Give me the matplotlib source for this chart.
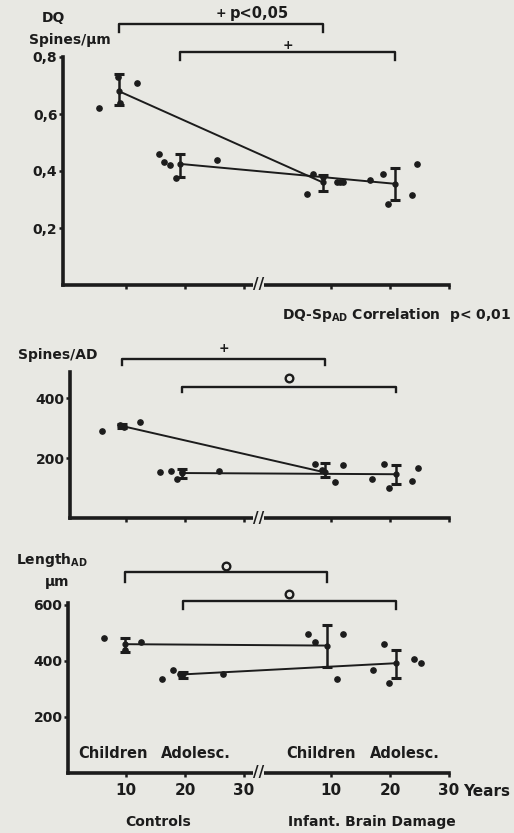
import matplotlib.pyplot as plt
import matplotlib.transforms as mtransforms

W, H = 514, 833
BG = '#e8e8e3'
INK = '#1c1c1c'

# x mapping: controls age is used as is, infant brain damage age is shifted past the break
IBD_OFFSET = 34.75
BREAK_X = 32.4

x_ticks = [10, 20, 30, 10 + IBD_OFFSET, 20 + IBD_OFFSET, 30 + IBD_OFFSET]
x_ticklabels = ['10', '20', '30', '10', '20', '30']

# ---- panel 1: DQ spines/um ----
dq_ctrl_age = [5.4, 8.6, 9.0, 11.9, 15.6, 16.4, 17.5, 18.4, 25.5]
dq_ctrl_val = [0.62, 0.73, 0.64, 0.71, 0.46, 0.43, 0.42, 0.375, 0.44]
dq_ibd_age = [5.9, 6.9, 8.6, 11.0, 11.6, 12.1, 16.6, 18.8, 19.7, 23.7, 24.6]
dq_ibd_val = [0.32, 0.39, 0.38, 0.36, 0.36, 0.36, 0.37, 0.39, 0.285, 0.315, 0.425]
# group means: ctrl children, ctrl adolescents, ibd children, ibd adolescents
dq_mean_age = [8.8, 19.1, 8.6, 20.9]
dq_mean = [0.68, 0.425, 0.36, 0.355]
dq_lo = [0.63, 0.38, 0.33, 0.30]
dq_hi = [0.74, 0.46, 0.385, 0.41]
dq_yticks = [0.2, 0.4, 0.6, 0.8]
dq_yticklabels = ['0,2', '0,4', '0,6', '0,8']

# ---- panel 2: spines per apical dendrite ----
sp_ctrl_age = [5.9, 9.0, 9.6, 12.4, 15.8, 17.6, 18.6, 19.5, 25.8]
sp_ctrl_val = [291, 310, 305, 319, 154, 158, 130, 154, 157]
sp_ibd_age = [7.3, 8.5, 10.7, 12.0, 16.9, 19.0, 19.8, 23.7, 24.7]
sp_ibd_val = [180, 160, 121, 177, 130, 180, 100, 123, 167]
sp_mean_age = [9.3, 19.5, 9.0, 21.0]
sp_mean = [307, 150, 152, 146]
sp_lo = [299, 135, 138, 115]
sp_hi = [315, 165, 183, 178]
sp_yticks = [200, 400]

# ---- panel 3: length of apical dendrite ----
ln_ctrl_age = [6.3, 9.8, 12.5, 16.1, 18.0, 19.2, 26.4]
ln_ctrl_val = [483, 439, 467, 334, 368, 352, 352]
ln_ibd_age = [6.1, 7.3, 11.0, 12.0, 17.1, 19.0, 19.8, 24.1, 25.2]
ln_ibd_val = [496, 467, 336, 495, 368, 460, 322, 406, 394]
ln_mean_age = [9.8, 19.6, 9.3, 21.0]
ln_mean = [460, 352, 455, 392]
ln_lo = [433, 340, 379, 338]
ln_hi = [483, 362, 529, 439]
ln_yticks = [200, 400, 600]

FONT = dict(family='DejaVu Sans', weight='bold', color=INK)
plt.rcParams['mathtext.default'] = 'bf'

fig = plt.figure(figsize=(W / 100, H / 100), dpi=100, facecolor=BG)


def add_panel(left, top, right, bottom, ymax):
    ax = fig.add_axes([left / W, 1 - bottom / H, (right - left) / W, (bottom - top) / H])
    ax.set_facecolor('none')
    ax.set_xlim((left - 67) / 5.9, (right - 67) / 5.9)
    ax.set_ylim(0, ymax)
    for s in ['top', 'right']:
        ax.spines[s].set_visible(False)
    for s in ['left', 'bottom']:
        ax.spines[s].set_linewidth(2.6)
        ax.spines[s].set_color(INK)
    ax.tick_params(colors=INK, width=1.8, length=3, pad=1, labelsize=10)
    ax.set_xticks(x_ticks)
    ax.set_xticklabels([])
    # axis break
    ax.text(BREAK_X, 0, '//', ha='center', va='center', fontsize=11, clip_on=False,
            bbox=dict(boxstyle='square,pad=0', fc=BG, ec='none'), **FONT)
    return ax


def draw_data(ax, ca, cv, ia, iv, mage, mean, lo, hi):
    xs_i = [a + IBD_OFFSET for a in ia]
    ax.plot(ca, cv, 'o', ms=3.8, color=INK, clip_on=False)
    ax.plot(xs_i, iv, 'o', ms=3.8, color=INK, clip_on=False)
    mx = [mage[0], mage[1], mage[2] + IBD_OFFSET, mage[3] + IBD_OFFSET]
    # children to children, adolescents to adolescents
    ax.plot([mx[0], mx[2]], [mean[0], mean[2]], color=INK, lw=1.4)
    ax.plot([mx[1], mx[3]], [mean[1], mean[3]], color=INK, lw=1.4)
    yerr = [[m - l for m, l in zip(mean, lo)], [h - m for m, h in zip(mean, hi)]]
    ax.errorbar(mx, mean, yerr=yerr, fmt='o', ms=3.5, color=INK,
                elinewidth=1.8, capsize=3.5, capthick=2.2)
    return mx


def bracket(ax, x1, x2, y, yend, sym, sym_y):
    tr = mtransforms.blended_transform_factory(ax.transData, ax.transAxes)
    ax.plot([x1, x1, x2, x2], [yend, y, y, yend], color=INK, lw=1.7,
            transform=tr, clip_on=False)
    xc = (x1 + x2) / 2
    if sym == '+':
        ax.text(xc, sym_y, '+', ha='center', va='center', fontsize=9,
                transform=tr, **FONT)
    else:
        ax.plot([xc], [sym_y], 'o', ms=5.5, mfc='none', mec=INK, mew=1.7,
                transform=tr, clip_on=False)
    return xc


def ftext(x, y, s, **kw):
    opts = dict(FONT)
    opts.update(kw)
    fig.text(x / W, 1 - y / H, s, **opts)


# panel 1
ax1 = add_panel(63, 57, 449, 285, 0.8)
ax1.set_yticks(dq_yticks)
ax1.set_yticklabels(dq_yticklabels, **FONT)
mx = draw_data(ax1, dq_ctrl_age, dq_ctrl_val, dq_ibd_age, dq_ibd_val,
               dq_mean_age, dq_mean, dq_lo, dq_hi)
xc = bracket(ax1, mx[0], mx[2], 1.145, 1.108, '+', 1.19)
ax1.text(xc + 1.5, 1.19, 'p<0,05', ha='left', va='center', fontsize=10.5,
         transform=mtransforms.blended_transform_factory(ax1.transData, ax1.transAxes), **FONT)
bracket(ax1, mx[1], mx[3], 1.022, 0.985, '+', 1.05)

ftext(53, 18, 'DQ', ha='center', va='center', fontsize=10)
ftext(70, 40, 'Spines/\u00b5m', ha='center', va='center', fontsize=10)

# panel 2
ftext(511, 315, 'DQ-Sp$_{AD}$ Correlation  p< 0,01', ha='right', va='center', fontsize=10)
ax2 = add_panel(70, 372, 449, 518, 487)
ax2.set_yticks(sp_yticks)
ax2.set_yticklabels([str(v) for v in sp_yticks], **FONT)
mx = draw_data(ax2, sp_ctrl_age, sp_ctrl_val, sp_ibd_age, sp_ibd_val,
               sp_mean_age, sp_mean, sp_lo, sp_hi)
bracket(ax2, mx[0], mx[2], 1.087, 1.05, '+', 1.16)
bracket(ax2, mx[1], mx[3], 0.899, 0.862, 'o', 0.96)
ftext(58, 355, 'Spines/AD', ha='center', va='center', fontsize=10)

# panel 3
ax3 = add_panel(68, 603, 449, 773, 607)
ax3.set_yticks(ln_yticks)
ax3.set_yticklabels([str(v) for v in ln_yticks], **FONT)
ax3.set_xticklabels(x_ticklabels, **FONT)
ax3.tick_params(axis='x', pad=4, labelsize=11)
mx = draw_data(ax3, ln_ctrl_age, ln_ctrl_val, ln_ibd_age, ln_ibd_val,
               ln_mean_age, ln_mean, ln_lo, ln_hi)
bracket(ax3, mx[0], mx[2], 1.181, 1.124, 'o', 1.22)
bracket(ax3, mx[1], mx[3], 1.012, 0.965, 'o', 1.055)

ftext(52, 560, 'Length$_{AD}$', ha='center', va='center', fontsize=10)
ftext(57, 582, '\u00b5m', ha='center', va='center', fontsize=10)
for x, s in [(113, 'Children'), (196, 'Adolesc.'), (321, 'Children'), (405, 'Adolesc.')]:
    ftext(x, 753, s, ha='center', va='center', fontsize=10.5)
ftext(463, 792, 'Years', ha='left', va='center', fontsize=11)
ftext(158, 822, 'Controls', ha='center', va='center', fontsize=10)
ftext(372, 822, 'Infant. Brain Damage', ha='center', va='center', fontsize=10)

fig.savefig('out.png', dpi=100, facecolor=BG)
